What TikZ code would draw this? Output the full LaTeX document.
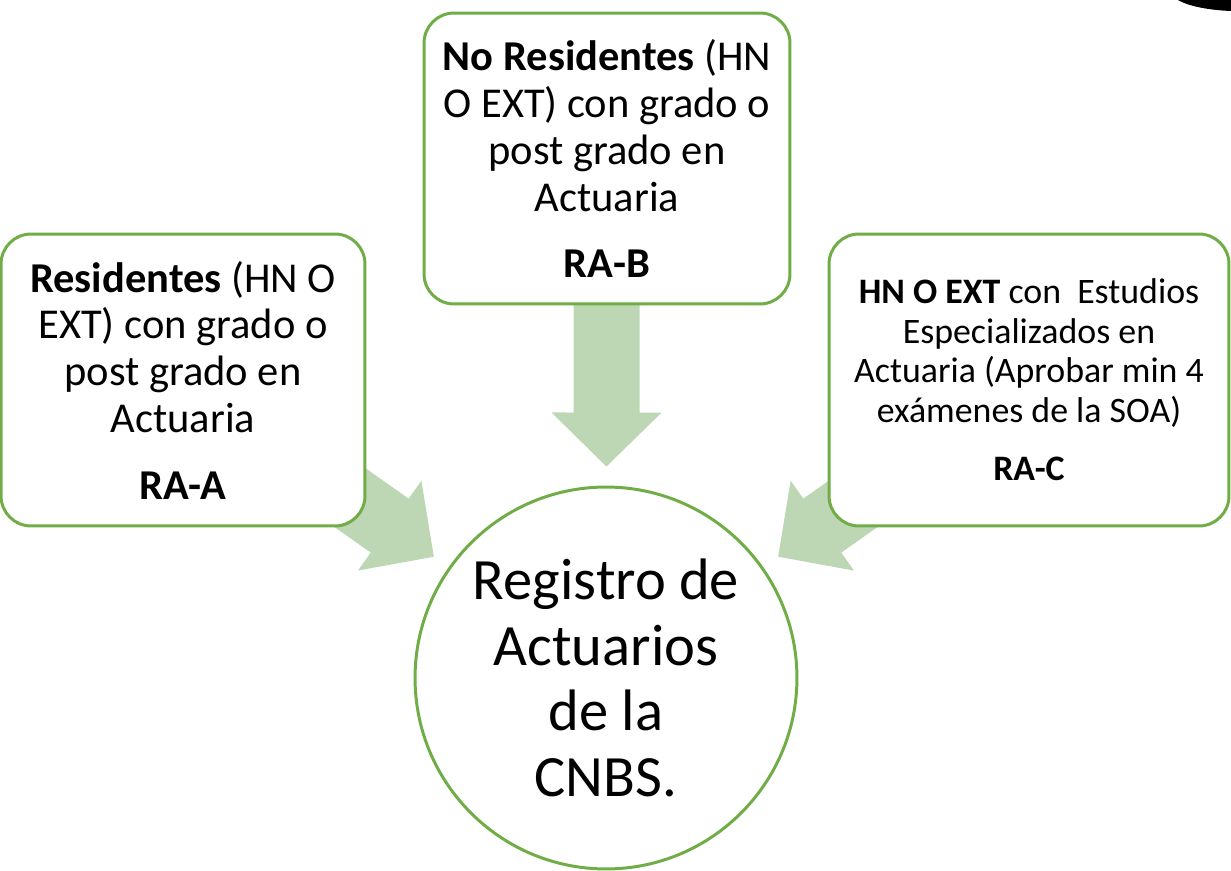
\documentclass[tikz,border=0pt]{standalone}
\usepackage{fontspec}
\setmainfont{Carlito}
\usepackage{tikz}
\usetikzlibrary{calc,backgrounds}
\definecolor{verdeborde}{RGB}{112,173,71}
\definecolor{verdeflecha}{RGB}{189,214,180}

\tikzset{
  caja/.style={draw=verdeborde, line width=1.7pt, rounded corners=0.6cm,
    fill=white, align=center, minimum height=5.84cm},
  textogrande/.style={font=\fontsize{24.2}{26.7}\selectfont},
  textochico/.style={font=\fontsize{20.4}{22.4}\selectfont},
  registro/.style={draw=verdeborde, line width=1.7pt, circle, fill=white,
    align=center, minimum size=7.64cm, inner sep=0pt,
    font=\fontsize{33.3}{37.4}\selectfont},
  flecha/.style={fill=verdeflecha}
}

% Flecha gruesa: #1 inicio, #2 punta
\newcommand{\flechagruesa}[2]{%
  \coordinate (fb) at ($(#2)!1.08cm!(#1)$);
  \fill[flecha] ($(#1)!0.66cm!90:(#2)$) -- ($(fb)!0.66cm!90:(#2)$)
    -- ($(fb)!1.1cm!90:(#2)$) -- (#2) -- ($(fb)!1.1cm!-90:(#2)$)
    -- ($(fb)!0.66cm!-90:(#2)$) -- ($(#1)!0.66cm!-90:(#2)$) -- cycle;
}

\begin{document}
\begin{tikzpicture}[x=0.02cm, y=-0.02cm]
            \useasboundingbox (0,0) rectangle (1231,871);

            % Circulo central
            \node[registro] (cnbs) at (606,678)
                {Registro de\\Actuarios\\de la\\CNBS.};

            % Cajas de requisitos
            \node[caja, textogrande, minimum width=7.28cm] (ra-a) at (183,380)
                {\textbf{Residentes} (HN O\\EXT) con grado o\\post grado en\\Actuaria\\[11pt]\textbf{RA-A}};
            \node[caja, textogrande, minimum width=7.32cm, minimum height=5.82cm] (ra-b) at (607,158.5)
                {\textbf{No Residentes} (HN\\O EXT) con grado o\\post grado en\\Actuaria\\[11pt]\textbf{RA-B}};
            \node[caja, textochico, minimum width=8cm] (ra-c) at (1029,380)
                {\textbf{HN O EXT} con\ \ Estudios\\Especializados en\\Actuaria (Aprobar min 4\\ex\'amenes de la SOA)\\[11pt]\textbf{RA-C}};

            % Flechas hacia el registro
            \begin{pgfonlayer}{background}
                \foreach \c in {ra-a,ra-b,ra-c} {
                    \coordinate (punta-\c) at ($(\c.center)!0.593!(cnbs.center)$);
                    \flechagruesa{\c.center}{punta-\c}
                }
            \end{pgfonlayer}

            % Mancha negra en la esquina
            \fill (1178,0) .. controls (1186,5) and (1205,10) .. (1231,11) -- (1231,0) -- cycle;
\end{tikzpicture}
\end{document}
